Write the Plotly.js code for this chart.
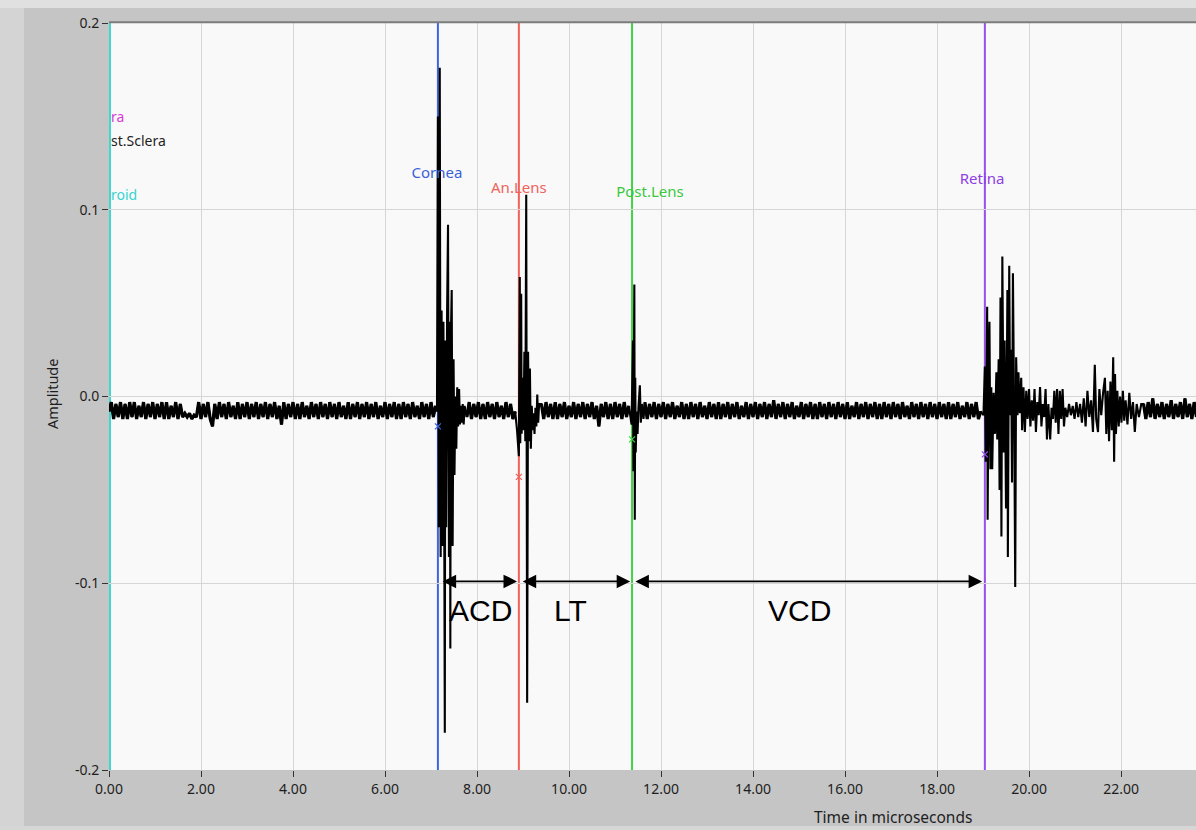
<!DOCTYPE html>
<html><head><meta charset="utf-8">
<script src="https://cdn.plot.ly/plotly-3.0.1.min.js"></script>
<style>html,body{margin:0;padding:0;background:#c5c5c5;}#chart{width:1196px;height:830px;}</style>
</head><body><div id="chart"></div>
<script>
// ---- signal samples [time µs, amplitude] ----
const noisePre = [
[0.00,-0.008],[0.05,-0.003],[0.10,-0.012],[0.15,-0.004],[0.20,-0.011],[0.25,-0.003],[0.30,-0.012],[0.35,-0.004],[0.40,-0.012],[0.45,-0.003],
[0.50,-0.011],[0.55,-0.003],[0.60,-0.012],[0.65,-0.005],[0.70,-0.011],[0.75,-0.003],[0.80,-0.012],[0.85,-0.004],[0.90,-0.011],[0.95,-0.003],
[1.00,-0.012],[1.05,-0.004],[1.10,-0.011],[1.15,-0.003],[1.20,-0.012],[1.25,-0.003],[1.30,-0.012],[1.35,-0.005],[1.40,-0.011],[1.45,-0.003],
[1.50,-0.012],[1.55,-0.004],[1.60,-0.011],[1.65,-0.009],[1.70,-0.011],[1.75,-0.009],[1.80,-0.012],[1.85,-0.010],[1.90,-0.011],[1.95,-0.003],
[2.00,-0.012],[2.05,-0.004],[2.10,-0.011],[2.15,-0.003],[2.20,-0.012],[2.25,-0.016],[2.30,-0.004],[2.35,-0.012],[2.40,-0.003],[2.45,-0.011],
[2.50,-0.004],[2.55,-0.012],[2.60,-0.003],[2.65,-0.011],[2.70,-0.005],[2.75,-0.012],[2.80,-0.003],[2.85,-0.012],[2.90,-0.004],[2.95,-0.011],
[3.00,-0.003],[3.05,-0.012],[3.10,-0.004],[3.15,-0.011],[3.20,-0.003],[3.25,-0.012],[3.30,-0.004],[3.35,-0.011],[3.40,-0.003],[3.45,-0.012],
[3.50,-0.004],[3.55,-0.011],[3.60,-0.003],[3.65,-0.012],[3.70,-0.005],[3.75,-0.015],[3.80,-0.003],[3.85,-0.012],[3.90,-0.004],[3.95,-0.011],
[4.00,-0.003],[4.05,-0.012],[4.10,-0.004],[4.15,-0.012],[4.20,-0.003],[4.25,-0.011],[4.30,-0.005],[4.35,-0.012],[4.40,-0.003],[4.45,-0.011],
[4.50,-0.004],[4.55,-0.012],[4.60,-0.003],[4.65,-0.011],[4.70,-0.004],[4.75,-0.012],[4.80,-0.003],[4.85,-0.011],[4.90,-0.004],[4.95,-0.012],
[5.00,-0.003],[5.05,-0.011],[5.10,-0.005],[5.15,-0.012],[5.20,-0.003],[5.25,-0.012],[5.30,-0.004],[5.35,-0.011],[5.40,-0.003],[5.45,-0.012],
[5.50,-0.004],[5.55,-0.011],[5.60,-0.003],[5.65,-0.012],[5.70,-0.004],[5.75,-0.011],[5.80,-0.003],[5.85,-0.012],[5.90,-0.005],[5.95,-0.011],
[6.00,-0.003],[6.05,-0.012],[6.10,-0.004],[6.15,-0.011],[6.20,-0.003],[6.25,-0.012],[6.30,-0.004],[6.35,-0.012],[6.40,-0.003],[6.45,-0.011],
[6.50,-0.004],[6.55,-0.012],[6.60,-0.003],[6.65,-0.011],[6.70,-0.005],[6.75,-0.012],[6.80,-0.003],[6.85,-0.011],[6.90,-0.004],[6.95,-0.012],
[7.00,-0.003],[7.05,-0.011],[7.10,-0.005]
];
const echoCornea = [
[7.13,-0.008],[7.15,0.150],[7.17,-0.070],[7.19,0.176],[7.21,-0.086],[7.23,0.046],[7.25,-0.080],[7.27,0.040],[7.29,-0.086],[7.30,-0.180],
[7.31,0.030],[7.33,-0.070],[7.35,0.046],[7.37,0.092],[7.39,-0.086],[7.41,0.040],[7.42,-0.135],[7.43,0.030],[7.45,0.057],[7.47,-0.080],
[7.49,0.020],[7.51,-0.042],[7.53,0.000],[7.55,-0.028],[7.57,0.005],[7.59,-0.016],[7.61,0.004],[7.63,-0.015],[7.65,-0.005],[7.67,-0.014],
[7.69,-0.004],[7.71,-0.015],[7.73,-0.005]
];
const noiseACD = [
[7.78,-0.011],[7.83,-0.003],[7.88,-0.012],[7.93,-0.004],[7.98,-0.011],[8.03,-0.003],[8.08,-0.012],[8.13,-0.004],[8.18,-0.012],[8.23,-0.003],
[8.28,-0.011],[8.33,-0.004],[8.38,-0.012],[8.43,-0.003],[8.48,-0.011],[8.53,-0.005],[8.58,-0.012],[8.63,-0.003],[8.68,-0.011],[8.73,-0.004],
[8.78,-0.012],[8.83,-0.008]
];
const echoAntLens = [
[8.87,-0.018],[8.91,-0.032],[8.93,0.064],[8.94,-0.025],[8.96,0.055],[8.97,-0.020],[8.99,0.010],[9.01,-0.018],[9.03,0.024],[9.05,-0.024],
[9.07,0.108],[9.09,-0.164],[9.11,0.024],[9.13,-0.024],[9.15,0.015],[9.17,-0.028],[9.19,-0.005],[9.21,-0.018],[9.23,-0.009],[9.25,-0.020],
[9.27,-0.006],[9.29,-0.016],[9.31,0.001],[9.33,-0.014],[9.35,-0.004]
];
const noiseLens = [
[9.40,-0.004],[9.45,-0.012],[9.50,-0.003],[9.55,-0.011],[9.60,-0.004],[9.65,-0.012],[9.70,-0.003],[9.75,-0.012],[9.80,-0.004],[9.85,-0.011],
[9.90,-0.003],[9.95,-0.012],[10.00,-0.005],[10.05,-0.011],[10.10,-0.003],[10.15,-0.012],[10.20,-0.004],[10.25,-0.011],[10.30,-0.003],[10.35,-0.012],
[10.40,-0.004],[10.45,-0.011],[10.50,-0.003],[10.55,-0.012],[10.60,-0.005],[10.65,-0.016],[10.70,-0.004],[10.75,-0.011],[10.80,-0.003],[10.85,-0.012],
[10.90,-0.004],[10.95,-0.012],[11.00,-0.003],[11.05,-0.011],[11.10,-0.004],[11.15,-0.012],[11.20,-0.003],[11.25,-0.011],[11.30,-0.005]
];
const echoPostLens = [
[11.36,-0.015],[11.39,0.030],[11.40,-0.040],[11.42,0.060],[11.43,-0.066],[11.44,0.010],[11.45,-0.030],[11.47,-0.008],[11.49,-0.020],[11.51,-0.006],
[11.54,0.006],[11.56,-0.014],[11.59,-0.004],[11.62,-0.012]
];
const noiseVitreous = [
[11.65,-0.003],[11.70,-0.012],[11.75,-0.004],[11.80,-0.011],[11.85,-0.003],[11.90,-0.012],[11.95,-0.004],[12.00,-0.011],[12.05,-0.003],[12.10,-0.012],
[12.15,-0.004],[12.20,-0.011],[12.25,-0.003],[12.30,-0.012],[12.35,-0.005],[12.40,-0.011],[12.45,-0.003],[12.50,-0.012],[12.55,-0.004],[12.60,-0.012],
[12.65,-0.003],[12.70,-0.011],[12.75,-0.004],[12.80,-0.012],[12.85,-0.003],[12.90,-0.011],[12.95,-0.005],[13.00,-0.012],[13.05,-0.003],[13.10,-0.011],
[13.15,-0.004],[13.20,-0.012],[13.25,-0.003],[13.30,-0.012],[13.35,-0.004],[13.40,-0.011],[13.45,-0.003],[13.50,-0.012],[13.55,-0.004],[13.60,-0.011],
[13.65,-0.003],[13.70,-0.012],[13.75,-0.005],[13.80,-0.011],[13.85,-0.003],[13.90,-0.012],[13.95,-0.004],[14.00,-0.011],[14.05,-0.003],[14.10,-0.012],
[14.15,-0.004],[14.20,-0.011],[14.25,-0.003],[14.30,-0.012],[14.35,-0.004],[14.40,-0.011],[14.45,-0.002],[14.50,-0.012],[14.55,-0.004],[14.60,-0.011],
[14.65,-0.003],[14.70,-0.012],[14.75,-0.004],[14.80,-0.011],[14.85,-0.003],[14.90,-0.012],[14.95,-0.005],[15.00,-0.011],[15.05,-0.003],[15.10,-0.012],
[15.15,-0.004],[15.20,-0.011],[15.25,-0.003],[15.30,-0.012],[15.35,-0.004],[15.40,-0.012],[15.45,-0.003],[15.50,-0.011],[15.55,-0.004],[15.60,-0.012],
[15.65,-0.003],[15.70,-0.011],[15.75,-0.004],[15.80,-0.012],[15.85,-0.003],[15.90,-0.011],[15.95,-0.004],[16.00,-0.012],[16.05,-0.003],[16.10,-0.012],
[16.15,-0.005],[16.20,-0.011],[16.25,-0.003],[16.30,-0.012],[16.35,-0.004],[16.40,-0.011],[16.45,-0.003],[16.50,-0.012],[16.55,-0.004],[16.60,-0.011],
[16.65,-0.003],[16.70,-0.012],[16.75,-0.004],[16.80,-0.012],[16.85,-0.003],[16.90,-0.011],[16.95,-0.004],[17.00,-0.012],[17.05,-0.003],[17.10,-0.011],
[17.15,-0.004],[17.20,-0.012],[17.25,-0.003],[17.30,-0.011],[17.35,-0.005],[17.40,-0.012],[17.45,-0.003],[17.50,-0.011],[17.55,-0.004],[17.60,-0.012],
[17.65,-0.003],[17.70,-0.011],[17.75,-0.004],[17.80,-0.012],[17.85,-0.003],[17.90,-0.011],[17.95,-0.004],[18.00,-0.012],[18.05,-0.003],[18.10,-0.011],
[18.15,-0.004],[18.20,-0.012],[18.25,-0.003],[18.30,-0.012],[18.35,-0.004],[18.40,-0.011],[18.45,-0.003],[18.50,-0.012],[18.55,-0.005],[18.60,-0.011],
[18.65,-0.003],[18.70,-0.012],[18.75,-0.004],[18.80,-0.011],[18.85,-0.003],[18.90,-0.012],[18.95,-0.008]
];
const echoRetina = [
[19.01,-0.010],[19.04,0.016],[19.06,-0.035],[19.09,0.048],[19.10,-0.066],[19.12,0.010],[19.14,0.040],[19.16,-0.039],[19.18,0.005],[19.20,-0.039],
[19.23,0.002],[19.26,-0.020],[19.29,0.013],[19.31,-0.023],[19.34,0.020],[19.36,-0.050],[19.38,0.053],[19.40,-0.075],[19.42,0.075],[19.45,-0.030],
[19.47,0.030],[19.50,-0.060],[19.53,0.057],[19.54,-0.086],[19.57,0.070],[19.59,-0.010],[19.61,0.025],[19.63,-0.046],[19.65,0.066],[19.68,-0.020],
[19.70,-0.102],[19.72,0.021],[19.75,-0.010],[19.77,0.013],[19.80,-0.009],[19.83,0.010],[19.85,-0.018],[19.88,0.005],[19.91,-0.019],[19.94,0.003],
[19.97,-0.012],[20.00,0.004],[20.03,-0.016],[20.06,-0.002],[20.09,-0.013],[20.12,0.004],[20.15,-0.019],[20.18,-0.003],[20.21,-0.010],[20.24,0.005],
[20.27,-0.016],[20.30,-0.004],[20.33,-0.011],[20.36,0.004],[20.39,-0.023],[20.42,-0.004],[20.46,-0.023],[20.49,-0.006],[20.52,-0.012],[20.55,0.003],
[20.58,-0.014],[20.61,0.004],[20.64,-0.020],[20.67,0.003],[20.70,-0.012],[20.73,0.004],[20.76,-0.016],[20.79,-0.006],[20.83,-0.011],[20.87,-0.004],
[20.91,-0.010],[20.95,-0.005],[20.99,-0.012],[21.03,-0.003],[21.07,-0.011],[21.11,-0.004],[21.15,-0.014],[21.19,-0.001],[21.23,-0.016],[21.27,0.003],
[21.31,-0.011],[21.35,-0.002],[21.39,-0.019],[21.43,0.017],[21.46,-0.012],[21.50,-0.019],[21.53,0.004],[21.57,-0.010],[21.61,0.002],[21.65,0.010],
[21.68,-0.020],[21.71,0.003],[21.74,-0.024],[21.77,0.008],[21.80,-0.018],[21.83,0.021],[21.85,-0.035],[21.87,0.012],[21.89,-0.020],[21.92,0.003],
[21.95,-0.016],[21.98,0.000],[22.01,-0.014],[22.04,0.003],[22.07,-0.013],[22.10,-0.002],[22.14,-0.015],[22.18,0.002],[22.22,-0.012],[22.26,-0.003],
[22.30,-0.019],[22.34,-0.004],[22.39,-0.011],[22.44,-0.004]
];
const noiseTail = [
[22.49,-0.004],[22.54,-0.012],[22.59,-0.003],[22.64,-0.011],[22.69,-0.001],[22.74,-0.012],[22.79,-0.004],[22.84,-0.011],[22.89,-0.003],[22.94,-0.012],
[22.99,-0.004],[23.04,-0.011],[23.09,-0.002],[23.14,-0.012],[23.19,-0.004],[23.24,-0.011],[23.29,-0.003],[23.34,-0.012],[23.39,-0.001],[23.44,-0.011],
[23.49,-0.004],[23.54,-0.012],[23.59,-0.003],[23.64,-0.011]
];

// ---- cursors ----
const cursorNames = ['Choroid', 'Cornea', 'An.Lens', 'Post.Lens', 'Retina'];
const cursorTimes = [0.0, 7.15, 8.91, 11.37, 19.04];
const cursorColors = ['#3fd8d0', '#3b66e0', '#f0625a', '#3fd444', '#9650ee'];
const cursorMarkY = [null, -0.016, -0.043, -0.023, -0.031];

// cursor labels inside the plot
const labelText = ['Cornea', 'An.Lens', 'Post.Lens', 'Retina'];
const labelX = [7.13, 8.91, 11.76, 18.98];
const labelY = [0.119, 0.111, 0.109, 0.116];
const labelColors = ['#3b5fd9', '#f0625a', '#38c93c', '#8e3fe3'];
// labels cut by the left edge of the plot (only their visible ends are shown)
const edgeLabelText = ['ra', 'st.Sclera', 'roid'];
const edgeLabelY = [0.150, 0.137, 0.108];
const edgeLabelColors = ['#d43bd8', '#1e1e1e', '#37d3cf'];

// distance spans
const spanNames = ['ACD', 'LT', 'VCD'];
const spanStart = [7.22, 8.96, 11.41];
const spanEnd = [8.87, 11.33, 18.98];
const spanLevel = -0.099;
const spanLabelX = [8.07, 10.04, 15.02];
const spanLabelY = -0.1146;

// ticks
const xTickVals = [0, 2, 4, 6, 8, 10, 12, 14, 16, 18, 20, 22];
const xTickText = ['0.00', '2.00', '4.00', '6.00', '8.00', '10.00', '12.00', '14.00', '16.00', '18.00', '20.00', '22.00'];
const yTickVals = [-0.2, -0.1, 0.0, 0.1, 0.2];
const yTickText = ['-0.2', '-0.1', '0.0', '0.1', '0.2'];

const signal = [].concat(noisePre, echoCornea, noiseACD, echoAntLens, noiseLens, echoPostLens, noiseVitreous, echoRetina, noiseTail);
// baseline-noise stretches, drawn a second time with a heavier stroke so they read as a dense band
const noiseParts = [noisePre, noiseACD, noiseLens, noiseVitreous, noiseTail];
const bandX = [], bandY = [];
noiseParts.forEach(part => {
  part.forEach(p => { bandX.push(p[0]); bandY.push(p[1]); });
  bandX.push(null); bandY.push(null);
});

const traces = [
  {
    type: 'scatter', mode: 'lines',
    x: bandX, y: bandY, connectgaps: false,
    line: {color: '#000000', width: 3.2, simplify: false},
    hoverinfo: 'skip'
  },
  {
    type: 'scatter', mode: 'lines',
    x: signal.map(p => p[0]), y: signal.map(p => p[1]),
    line: {color: '#000000', width: 2.1, simplify: false},
    hoverinfo: 'skip'
  },
  {
    type: 'scatter', mode: 'markers',
    x: cursorTimes.slice(1), y: cursorMarkY.slice(1),
    marker: {symbol: 'x-thin', size: 6, line: {width: 1.2, color: cursorColors.slice(1)}, color: cursorColors.slice(1)},
    hoverinfo: 'skip'
  },
  {
    type: 'scatter', mode: 'text',
    x: labelX, y: labelY, text: labelText,
    textposition: 'middle center',
    textfont: {family: 'Noto Sans, Open Sans, sans-serif', size: 15, color: labelColors},
    hoverinfo: 'skip'
  }
];

const shapes = [];
// outer frame tones
shapes.push({type: 'rect', xref: 'paper', yref: 'paper', x0: -0.1003, x1: -0.0782, y0: -0.081, y1: 1.031, fillcolor: '#d4d4d4', line: {width: 0}, layer: 'below'});
shapes.push({type: 'rect', xref: 'paper', yref: 'paper', x0: -0.1003, x1: 1.0, y0: 1.020, y1: 1.031, fillcolor: '#e0e0e0', line: {width: 0}, layer: 'below'});
shapes.push({type: 'rect', xref: 'paper', yref: 'paper', x0: -0.1003, x1: 1.0, y0: -0.081, y1: -0.075, fillcolor: '#d6d6d6', line: {width: 0}, layer: 'below'});
shapes.push({type: 'line', xref: 'paper', yref: 'paper', x0: 0, x1: 1, y0: 1.001, y1: 1.001, line: {color: '#7c7c7c', width: 2}, layer: 'above'});
cursorTimes.forEach((t, i) => {
  shapes.push({type: 'line', xref: 'x', yref: 'paper', x0: t, x1: t, y0: 0, y1: 1,
    line: {color: cursorColors[i], width: i === 0 ? 4 : 2}, layer: 'between'});
});

const annotations = [];
edgeLabelText.forEach((txt, i) => {
  annotations.push({
    xref: 'x', yref: 'y', x: cursorTimes[0], y: edgeLabelY[i], text: txt, showarrow: false,
    xanchor: 'left', yanchor: 'middle', xshift: 0,
    font: {family: 'Noto Sans, Open Sans, sans-serif', size: 14, color: edgeLabelColors[i]}
  });
});
spanNames.forEach((name, i) => {
  annotations.push({
    xref: 'x', yref: 'y', axref: 'x', ayref: 'y',
    x: spanEnd[i], y: spanLevel, ax: spanStart[i], ay: spanLevel,
    text: '', showarrow: true, arrowside: 'end+start',
    arrowhead: 2, startarrowhead: 2, arrowsize: 1.5, startarrowsize: 1.5,
    arrowwidth: 1.8, arrowcolor: '#000000', standoff: 0, startstandoff: 0
  });
  annotations.push({
    xref: 'x', yref: 'y', x: spanLabelX[i], y: spanLabelY, text: name, showarrow: false,
    font: {family: 'Liberation Sans, Arial, sans-serif', size: 30, color: '#000000'},
    xanchor: 'center', yanchor: 'middle'
  });
});
annotations.push({
  xref: 'paper', yref: 'paper', x: 0.7213, y: -0.0629, text: 'Time in microseconds', showarrow: false,
  font: {family: 'Noto Sans, Open Sans, sans-serif', size: 15.5, color: '#1e1e1e'}, xanchor: 'center', yanchor: 'middle'
});
annotations.push({
  xref: 'paper', yref: 'paper', x: -0.0524, y: 0.5033, text: 'Amplitude', showarrow: false, textangle: -90,
  font: {family: 'Noto Sans, Open Sans, sans-serif', size: 14.5, color: '#1e1e1e'}, xanchor: 'center', yanchor: 'middle'
});

const layout = {
  width: 1196, height: 830,
  margin: {l: 109, r: 0, t: 23, b: 60, pad: 0},
  paper_bgcolor: '#c5c5c5', plot_bgcolor: '#f9f9f9',
  showlegend: false,
  font: {family: 'Noto Sans, Open Sans, sans-serif', size: 14, color: '#1e1e1e'},
  xaxis: {
    range: [0, 23.63], tickmode: 'array', tickvals: xTickVals, ticktext: xTickText,
    showgrid: true, gridcolor: '#d6d6d6', gridwidth: 1, zeroline: false,
    ticks: 'outside', ticklen: 6, tickwidth: 1, tickcolor: '#333333', showline: false, fixedrange: true
  },
  yaxis: {
    range: [-0.2, 0.2], tickmode: 'array', tickvals: yTickVals, ticktext: yTickText,
    showgrid: true, gridcolor: '#d6d6d6', gridwidth: 1, zeroline: false,
    ticks: 'outside', ticklen: 6, tickwidth: 1, tickcolor: '#333333', showline: false, fixedrange: true
  },
  shapes: shapes,
  annotations: annotations
};

Plotly.newPlot('chart', traces, layout, {displayModeBar: false, staticPlot: true});
</script></body></html>
